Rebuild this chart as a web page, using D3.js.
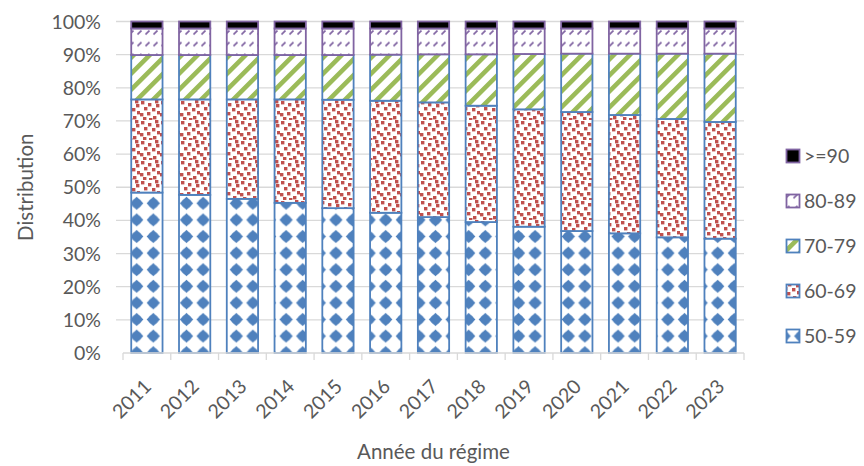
<!DOCTYPE html>
<html>
<head>
<meta charset="utf-8">
<script src="https://cdn.jsdelivr.net/npm/d3@7"></script>
<style>
  html, body { margin: 0; padding: 0; background: #ffffff; }
  svg { display: block; font-family: Lato, "Open Sans", sans-serif; }
</style>
</head>
<body>
<svg id="chart" width="864" height="466"></svg>
<script>
// Years of the scheme and the share (%) of each age group
const years = ["2011","2012","2013","2014","2015","2016","2017","2018","2019","2020","2021","2022","2023"];
const seriesNames = ["50-59","60-69","70-79","80-89",">=90"];
const age50_59 = [48.4,47.7,46.5,45.3,43.7,42.3,41.0,39.5,38.1,36.8,36.1,34.9,34.5];
const age60_69 = [28.1,28.8,30.0,31.2,32.7,33.8,34.6,35.1,35.4,35.9,35.7,35.7,35.2];
const age70_79 = [13.4,13.4,13.4,13.4,13.5,13.9,14.5,15.5,16.7,17.6,18.5,19.7,20.6];
const age80_89 = [8.0,8.0,8.0,8.0,8.0,7.9,7.8,7.8,7.7,7.6,7.6,7.6,7.6];
const age90plus = [2.1,2.1,2.1,2.1,2.1,2.1,2.1,2.1,2.1,2.1,2.1,2.1,2.1];
const yTicks = [0,10,20,30,40,50,60,70,80,90,100];

const seriesValues = [age50_59, age60_69, age70_79, age80_89, age90plus];
const rows = years.map((y, i) => {
  const r = { year: y };
  seriesNames.forEach((n, k) => { r[n] = seriesValues[k][i]; });
  return r;
});

const textColor = "#595959";
const svg = d3.select("#chart");
const margin = { left: 123, right: 120, top: 21.5, bottom: 113 };
const W = 864, H = 466;

const x = d3.scaleBand().domain(years)
  .range([margin.left, W - margin.right])
  .paddingInner(0.345).paddingOuter(0.1725);
const y = d3.scaleLinear().domain([0, 100]).range([H - margin.bottom, margin.top]);

// ---- fill patterns ----
const defs = svg.append("defs");

// blue studded pattern
const pBlue = defs.append("pattern").attr("id", "pat0")
  .attr("patternUnits", "userSpaceOnUse").attr("width", 16.6).attr("height", 16.6)
  .attr("x", 128.4).attr("y", 195);
pBlue.append("rect").attr("width", 16.6).attr("height", 16.6).attr("fill", "#fff");
pBlue.append("path").attr("fill", "#4F81BD")
  .attr("d", "M8.3,1.6 L11.6,5 L15,8.3 L11.6,11.6 L8.3,15 L5,11.6 L1.6,8.3 L5,5 Z");
pBlue.append("circle").attr("cx", 8.3).attr("cy", 8.3).attr("r", 5).attr("fill", "#4F81BD");

// red confetti pattern
const pRed = defs.append("pattern").attr("id", "pat1")
  .attr("patternUnits", "userSpaceOnUse").attr("width", 20).attr("height", 20);
pRed.append("rect").attr("width", 20).attr("height", 20).attr("fill", "#fff");
[[1,1],[8,3],[15,0],[4,7],[12,8],[17,11],[0,13],[7,12],[13,16],[3,17],[9,18],[16,4]].forEach(([a, b]) => {
  pRed.append("rect").attr("x", a).attr("y", b).attr("width", 3.4).attr("height", 3.4).attr("fill", "#C0504D");
});

// green wide upward diagonal
const pGreen = defs.append("pattern").attr("id", "pat2")
  .attr("patternUnits", "userSpaceOnUse").attr("width", 16).attr("height", 16);
pGreen.append("rect").attr("width", 16).attr("height", 16).attr("fill", "#fff");
pGreen.append("path").attr("fill", "#9BBB59")
  .attr("d", "M0,16 L0,9.5 L9.5,0 L16,0 Z M16,9.5 L16,16 L9.5,16 Z");

// purple dashed upward diagonal
const pPurple = defs.append("pattern").attr("id", "pat3")
  .attr("patternUnits", "userSpaceOnUse").attr("width", 8).attr("height", 11.7)
  .attr("x", 0).attr("y", 26);
pPurple.append("rect").attr("width", 8).attr("height", 11.7).attr("fill", "#fff");
pPurple.append("path").attr("stroke", "#8064A2").attr("stroke-width", 1.8)
  .attr("d", "M1.5,8.5 L5.5,4.5");

const fills = ["url(#pat0)", "url(#pat1)", "url(#pat2)", "url(#pat3)", "#000000"];
const borders = ["#4F81BD", "#4F81BD", "#4F81BD", "#8064A2", "#8064A2"];

// ---- gridlines ----
svg.append("g").selectAll("line").data(yTicks.filter(t => t > 0)).join("line")
  .attr("x1", 116).attr("x2", W - margin.right)
  .attr("y1", d => y(d)).attr("y2", d => y(d))
  .attr("stroke", "#d9d9d9").attr("stroke-width", 1.3);

// ---- y axis labels ----
svg.append("g").selectAll("text").data(yTicks).join("text")
  .attr("x", 101).attr("y", d => y(d)).attr("dy", "0.36em")
  .attr("text-anchor", "end").attr("font-size", 19.5).attr("fill", textColor)
  .text(d => d + "%");

// ---- stacked bars ----
const stack = d3.stack().keys(seriesNames)(rows);
const gBars = svg.append("g");
stack.forEach((layer, k) => {
  gBars.append("g").selectAll("rect").data(layer).join("rect")
    .attr("x", d => x(d.data.year))
    .attr("width", x.bandwidth())
    .attr("y", d => y(d[1]))
    .attr("height", d => y(d[0]) - y(d[1]))
    .attr("fill", fills[k])
    .attr("stroke", borders[k]).attr("stroke-width", 1.8);
});

// ---- x axis ----
const xAxisY = y(0);
svg.append("line").attr("x1", margin.left).attr("x2", W - margin.right)
  .attr("y1", xAxisY).attr("y2", xAxisY).attr("stroke", "#d9d9d9").attr("stroke-width", 1.3);
const step = x.step();
const edges = d3.range(years.length + 1).map(i => margin.left + i * step);
svg.append("g").selectAll("line").data(edges).join("line")
  .attr("x1", d => d).attr("x2", d => d)
  .attr("y1", xAxisY).attr("y2", xAxisY + 7)
  .attr("stroke", "#d9d9d9").attr("stroke-width", 1.3);

svg.append("g").selectAll("text").data(years).join("text")
  .attr("transform", d => `translate(${x(d) + x.bandwidth() / 2 - 4},${xAxisY + 25}) rotate(-45)`)
  .attr("text-anchor", "end").attr("dy", "0.7em")
  .attr("font-size", 19.5).attr("fill", textColor)
  .text(d => d);

// ---- axis titles ----
svg.append("text").attr("x", (margin.left + W - margin.right) / 2).attr("y", 459)
  .attr("text-anchor", "middle").attr("font-size", 20.5).attr("fill", textColor)
  .text("Année du régime");
svg.append("text").attr("transform", `translate(33,${(y(0) + y(100)) / 2}) rotate(-90)`)
  .attr("text-anchor", "middle").attr("font-size", 20.5).attr("fill", textColor)
  .text("Distribution");

// ---- legend (top entry is the last series) ----
const legendY = [336, 291, 246, 201, 156];
const gLeg = svg.append("g");
seriesNames.forEach((n, k) => {
  gLeg.append("rect").attr("x", 786.5).attr("y", legendY[k] - 6.5)
    .attr("width", 13).attr("height", 13)
    .attr("fill", fills[k]).attr("stroke", borders[k]).attr("stroke-width", 1.8);
  gLeg.append("text").attr("x", 804).attr("y", legendY[k]).attr("dy", "0.36em")
    .attr("font-size", 19.5).attr("fill", textColor).text(n);
});
</script>
</body>
</html>
